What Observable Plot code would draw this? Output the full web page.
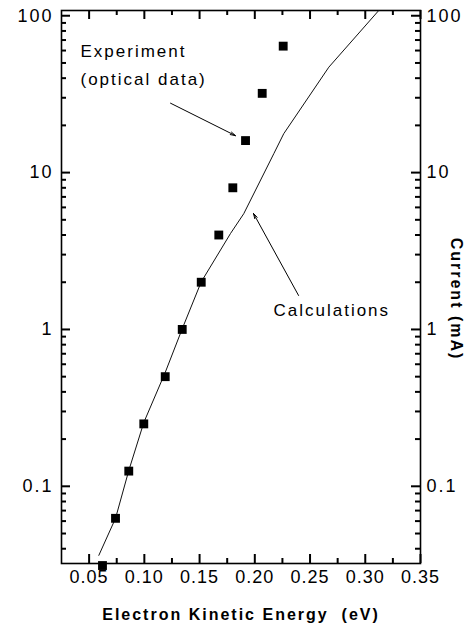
<!DOCTYPE html>
<html><head><meta charset="utf-8">
<script src="https://cdn.jsdelivr.net/npm/d3@7"></script>
<script src="https://cdn.jsdelivr.net/npm/@observablehq/plot@0.6"></script>
<style>
html,body{margin:0;padding:0;background:#fff;}
#chart svg{display:block;font-family:"Liberation Sans",Arial,Helvetica,sans-serif;}
#chart svg g[aria-label="x-axis tick label"] text{letter-spacing:1px;}
#chart svg g[aria-label="y-axis tick label"] text{letter-spacing:2px;}
#chart svg g[aria-label="text"] text{letter-spacing:2px;}
</style></head><body><div id="chart"></div>
<script>
// Experiment (optical data)
const expEnergy  = [0.0621,0.0739,0.0859,0.0995,0.1189,0.1343,0.1515,0.1674,0.1801,0.1916,0.2067,0.2257];
const expCurrent = [0.03125,0.0625,0.125,0.25,0.5,1,2,4,8,16,32,64];
// Calculations
const calcEnergy  = [0.0588,0.0739,0.0859,0.0995,0.1189,0.1343,0.1515,0.178,0.190,0.2172,0.2262,0.267,0.3122];
const calcCurrent = [0.0363,0.0625,0.126,0.255,0.532,1.01,2.01,4.09,5.47,13.2,17.7,47,108];
// ticks
const xTicks = [0.05,0.10,0.15,0.20,0.25,0.30,0.35];
const xMinor = [0.075,0.125,0.175,0.225,0.275,0.325];
const yTicks = [0.1,1,10,100];
const yMinor = [0.04,0.05,0.06,0.07,0.08,0.09,0.2,0.3,0.4,0.5,0.6,0.7,0.8,0.9,2,3,4,5,6,7,8,9,20,30,40,50,60,70,80,90];
// annotations
const labels = ["Experiment","(optical data)","Calculations"];
const labelEnergy = [0.0422,0.0422,0.2169];
const labelCurrent = [59.1,39.2,1.32];
const arrowFrom = [[0.1237,27.7],[0.2396,1.647]];
const arrowTo   = [[0.1825,17.2],[0.1988,5.49]];

const W = 471, H = 628, mt = 10, mb = 65, ml = 61, mr = 51;
const iw = W - ml - mr, ih = H - mt - mb;
const majorLen = 9, minorLen = 5;

const expData = expEnergy.map((x,i)=>({x, y: expCurrent[i]}));
const calcData = calcEnergy.map((x,i)=>({x, y: calcCurrent[i]}));
const labelData = labels.map((t,i)=>({t, x: labelEnergy[i], y: labelCurrent[i]}));
const arrowData = arrowFrom.map((f,i)=>({x1:f[0], y1:f[1], x2:arrowTo[i][0], y2:arrowTo[i][1]}));

const tk = {stroke: "#000", strokeWidth: 2};

const plot = Plot.plot({
  width: W, height: H,
  marginTop: mt, marginBottom: mb, marginLeft: ml, marginRight: mr,
  x: {type: "linear", domain: [0.025, 0.35]},
  y: {type: "log", domain: [0.0322, 108]},
  marks: [
    // inward ticks: bottom, top, left, right
    Plot.tickX(xTicks, {x: d=>d, insetTop: ih - majorLen, ...tk}),
    Plot.tickX(xMinor, {x: d=>d, insetTop: ih - minorLen, ...tk}),
    Plot.tickX(xTicks, {x: d=>d, insetBottom: ih - majorLen, ...tk}),
    Plot.tickX(xMinor, {x: d=>d, insetBottom: ih - minorLen, ...tk}),
    Plot.tickY(yTicks, {y: d=>d, insetRight: iw - majorLen, ...tk}),
    Plot.tickY(yMinor, {y: d=>d, insetRight: iw - minorLen, ...tk}),
    Plot.tickY(yTicks, {y: d=>d, insetLeft: iw - majorLen, ...tk}),
    Plot.tickY(yMinor, {y: d=>d, insetLeft: iw - minorLen, ...tk}),
    Plot.frame({stroke: "#000", strokeWidth: 1.6}),
    Plot.line(calcData, {x: "x", y: "y", stroke: "#111", strokeWidth: 1, clip: true}),
    Plot.dot(expData, {x: "x", y: "y", symbol: "square", r: 5, fill: "#000"}),
    Plot.axisX({anchor: "bottom", ticks: xTicks, tickSize: 0, tickPadding: 7, tickFormat: d=>d.toFixed(2), label: null, fontSize: 18}),
    Plot.axisY({anchor: "left", ticks: yTicks, tickSize: 0, tickPadding: 8, tickFormat: d=>String(d), label: null, fontSize: 18}),
    Plot.axisY({anchor: "right", ticks: yTicks, tickSize: 0, tickPadding: 6, tickFormat: d=>String(d), label: null, fontSize: 18}),
    Plot.text(labelData, {x: "x", y: "y", text: "t", textAnchor: "start", lineAnchor: "middle", fontSize: 17}),
    Plot.arrow(arrowData, {x1: "x1", y1: "y1", x2: "x2", y2: "y2", stroke: "#000", strokeWidth: 1, headLength: 8, headAngle: 30, bend: 0}),
    Plot.text(["Electron Kinetic Energy  (eV)"], {frameAnchor: "bottom", dy: 51, text: d=>d, fontWeight: "bold", fontSize: 16, textAnchor: "middle", lineAnchor: "middle"}),
    Plot.text(["Current (mA)"], {frameAnchor: "right", dx: 36, dy: 12, rotate: 90, text: d=>d, fontWeight: "bold", fontSize: 16, textAnchor: "middle", lineAnchor: "middle"})
  ]
});
document.getElementById("chart").appendChild(plot);
</script></body></html>
